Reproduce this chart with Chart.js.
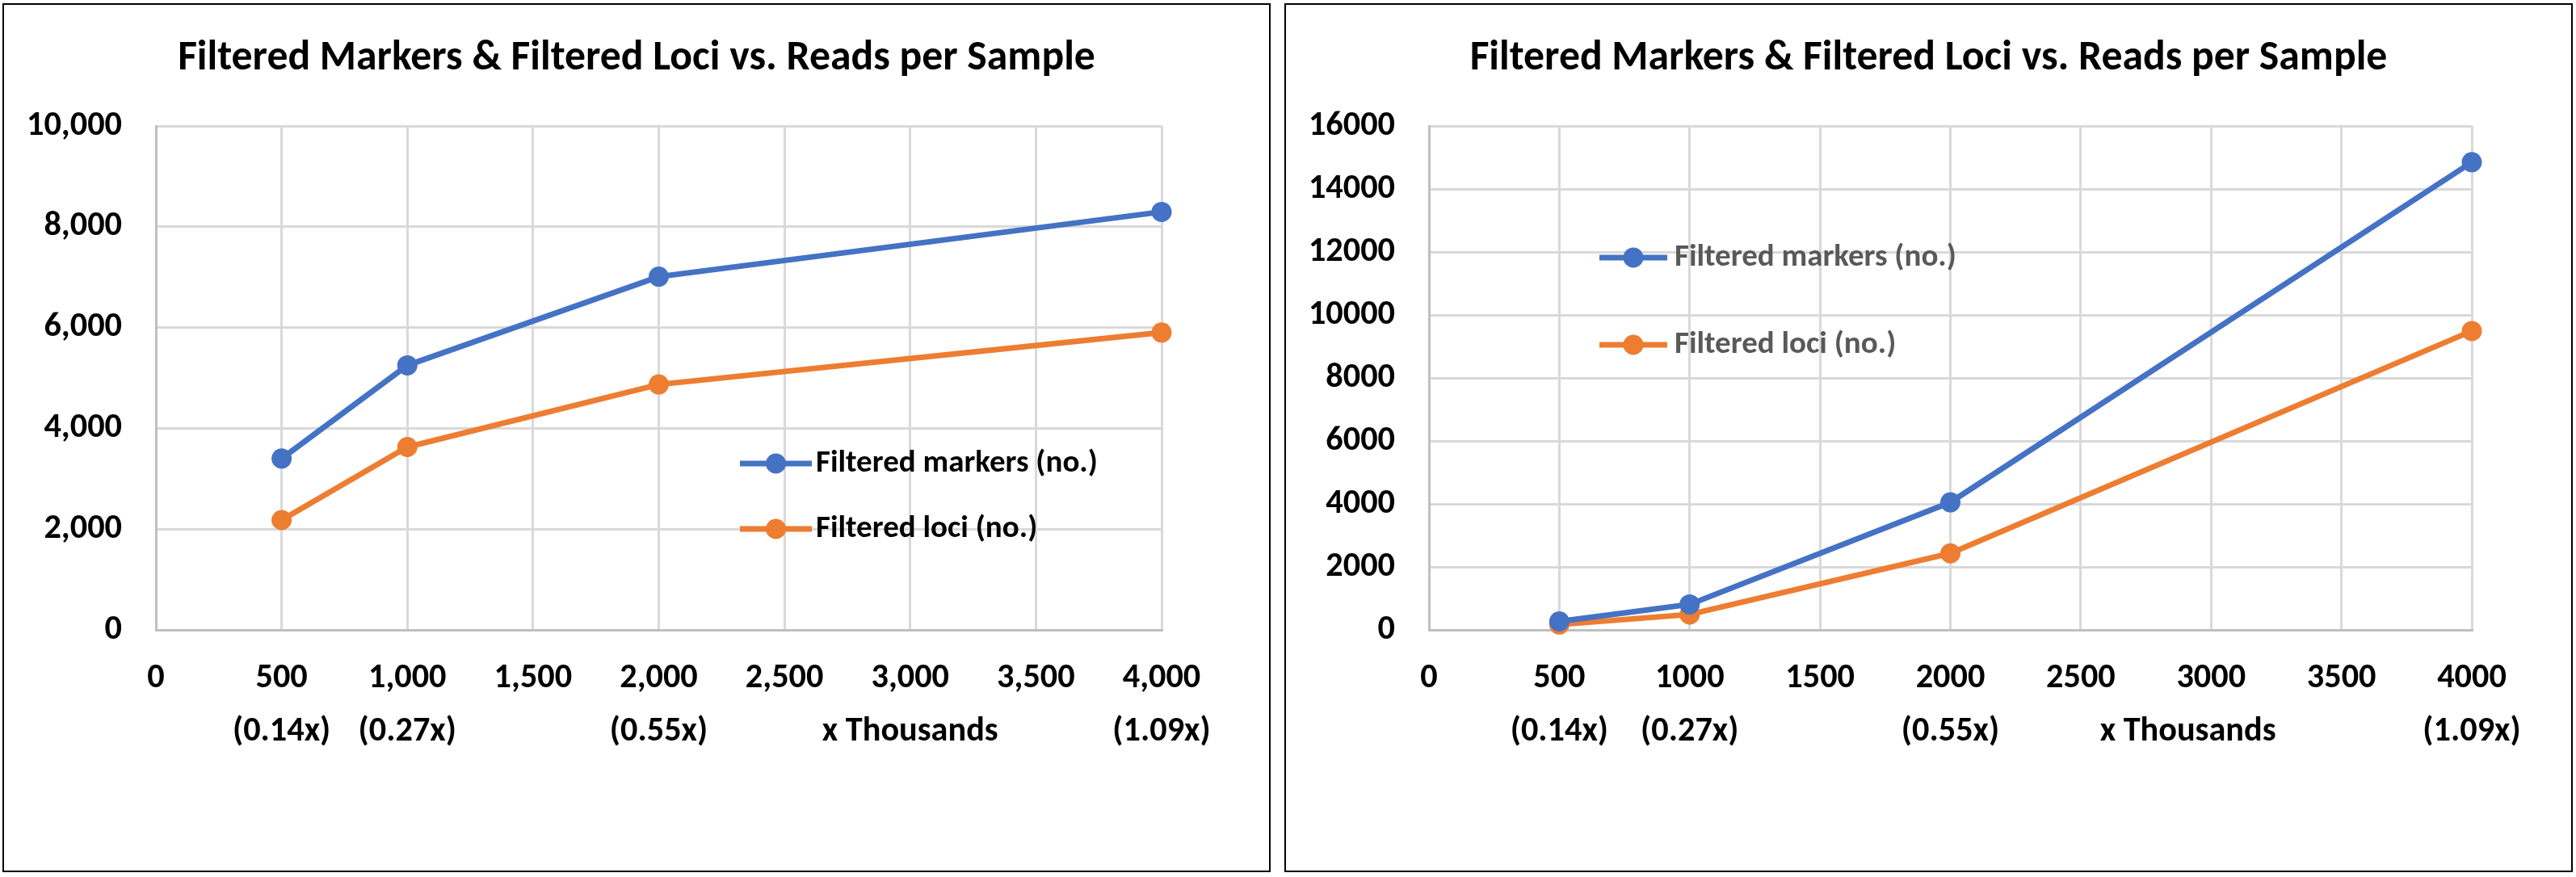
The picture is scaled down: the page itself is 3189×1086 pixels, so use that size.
<!DOCTYPE html>
<html>
<head>
<meta charset="utf-8">
<script src="https://cdn.jsdelivr.net/npm/chart.js@4.4.1/dist/chart.umd.min.js"></script>
<style>
  html, body { margin: 0; padding: 0; background: #fff; }
  body { width: 3189px; height: 1086px; position: relative; overflow: hidden; }
  .panel { position: absolute; box-sizing: border-box; border: 2px solid #000; }
  canvas { position: absolute; }
</style>
</head>
<body>
<div class="panel" style="left:3px;top:4px;width:1570px;height:1076px"></div>
<div class="panel" style="left:1590px;top:4px;width:1595px;height:1076px"></div>
<canvas id="leftChart" width="1564" height="1072" style="left:6px;top:6px;width:1564px;height:1072px"></canvas>
<canvas id="rightChart" width="1589" height="1072" style="left:1593px;top:6px;width:1589px;height:1072px"></canvas>

<script>
// reads per sample (x Thousands) and the coverage printed under them
const readsK = [500, 1000, 2000, 4000];
const coverage = ['(0.14x)', '(0.27x)', '(0.55x)', '(1.09x)'];
const unitLabel = 'x Thousands';
const unitAt = 3000;

const seriesNames = ['Filtered markers (no.)', 'Filtered loci (no.)'];

// left chart
const leftMarkers = [3400, 5250, 7010, 8295];
const leftLoci = [2180, 3630, 4870, 5900];

// right chart
const rightMarkers = [270, 810, 4050, 14850];
const rightLoci = [170, 490, 2430, 9490];

const titleText = 'Filtered Markers & Filtered Loci vs. Reads per Sample';

const BLUE = '#4472C4';
const ORANGE = '#ED7D31';

// pick a narrow font that is actually installed
const probeCtx = document.createElement('canvas').getContext('2d');
function hasFont(name) {
  const probe = 'Filtered Markers 0123456789';
  probeCtx.font = `bold 40px "${name}", monospace`;
  const a = probeCtx.measureText(probe).width;
  probeCtx.font = `bold 40px "${name}", serif`;
  const b = probeCtx.measureText(probe).width;
  return a === b;
}
const FAMILY = ['Carlito', 'Liberation Sans Narrow', 'DejaVu Sans Condensed', 'Liberation Sans']
  .find(hasFont) || 'sans-serif';
const FONT = `"${FAMILY}", sans-serif`;

function fitSize(text, width) {
  probeCtx.font = `bold 100px ${FONT}`;
  return 100 * width / probeCtx.measureText(text).width;
}
const tickSize = Math.min(fitSize('10,000', 118), 44);
const titleSize = Math.min(fitSize(titleText, 1136), 54);
const legendSize = Math.min(fitSize(seriesNames[0], 349), 40);

// legend drawn inside the plot at a fixed spot
const legendAt = {
  id: 'legendAt',
  afterDraw(chart, args, opts) {
    const ctx = chart.ctx;
    chart.data.datasets.forEach((ds, i) => {
      const y = opts.top + i * opts.gap;
      ctx.save();
      ctx.strokeStyle = ds.borderColor;
      ctx.lineWidth = ds.borderWidth;
      ctx.beginPath();
      ctx.moveTo(opts.x1, y);
      ctx.lineTo(opts.x2, y);
      ctx.stroke();
      ctx.fillStyle = ds.pointBackgroundColor;
      ctx.beginPath();
      ctx.arc((opts.x1 + opts.x2) / 2, y, ds.pointRadius, 0, Math.PI * 2);
      ctx.fill();
      ctx.fillStyle = opts.color;
      ctx.font = `bold ${legendSize}px ${FONT}`;
      ctx.textBaseline = 'middle';
      ctx.textAlign = 'left';
      ctx.fillText(ds.label, opts.textX, y);
      ctx.restore();
    });
  }
};

function makeChart(id, markers, loci, cfg) {
  const pts = (vals) => readsK.map((x, i) => ({x: x, y: vals[i]}));
  const line = (label, vals, color) => ({
    label: label,
    data: pts(vals),
    borderColor: color,
    backgroundColor: color,
    pointBackgroundColor: color,
    borderWidth: 7,
    pointRadius: 12.5,
    pointHoverRadius: 12.5,
    pointBorderWidth: 0,
    clip: false
  });
  const fmt = (v) => cfg.commas ? v.toLocaleString('en-US') : String(v);

  return new Chart(document.getElementById(id), {
    type: 'line',
    data: {
      datasets: [
        line(seriesNames[0], markers, BLUE),
        line(seriesNames[1], loci, ORANGE)
      ]
    },
    plugins: [legendAt],
    options: {
      responsive: false,
      animation: false,
      layout: { padding: 0 },
      scales: {
        x: {
          type: 'linear',
          min: 0,
          max: 4000,
          grid: { color: '#d9d9d9', lineWidth: 3, drawTicks: false },
          border: { color: '#bfbfbf', width: 3 },
          ticks: {
            stepSize: 500,
            padding: 27,
            color: '#000',
            maxRotation: 0,
            autoSkip: false,
            font: { family: FONT, size: tickSize, weight: 'bold', lineHeight: '66px' },
            callback: function (v) {
              const k = readsK.indexOf(v);
              if (k >= 0) return [fmt(v), coverage[k]];
              if (v === unitAt) return [fmt(v), unitLabel + cfg.unitPad];
              return fmt(v);
            }
          },
          afterFit: (s) => { s.height = 298; }
        },
        y: {
          min: 0,
          max: cfg.yMax,
          grid: { color: '#d9d9d9', lineWidth: 3, drawTicks: false },
          border: { color: '#bfbfbf', width: 3 },
          ticks: {
            stepSize: 2000,
            padding: 42,
            color: '#000',
            font: { family: FONT, size: tickSize, weight: 'bold' },
            callback: (v) => fmt(v)
          },
          afterFit: (s) => { s.width = cfg.left; }
        },
        pad: {
          position: 'right',
          grid: { display: false, drawTicks: false },
          border: { display: false },
          ticks: { display: false },
          afterFit: (s) => { s.width = cfg.right; }
        }
      },
      plugins: {
        legend: { display: false },
        tooltip: { enabled: false },
        title: {
          display: true,
          text: titleText,
          color: '#000',
          font: { family: FONT, size: titleSize, weight: 'bold', lineHeight: '58px' },
          padding: { top: 38, bottom: 54 }
        },
        legendAt: cfg.legend
      }
    }
  });
}

makeChart('leftChart', leftMarkers, leftLoci, {
  commas: true,
  yMax: 10000,
  left: 187,
  right: 132,
  unitPad: '',
  legend: { x1: 910, x2: 999, textX: 1004, top: 568, gap: 81, color: '#000' }
});

makeChart('rightChart', rightMarkers, rightLoci, {
  commas: false,
  yMax: 16000,
  left: 176,
  right: 122,
  unitPad: '\u00a0\u00a0\u00a0\u00a0\u00a0\u00a0',
  legend: { x1: 387, x2: 471, textX: 480, top: 313, gap: 108, color: '#595959' }
});
</script>
</body>
</html>
